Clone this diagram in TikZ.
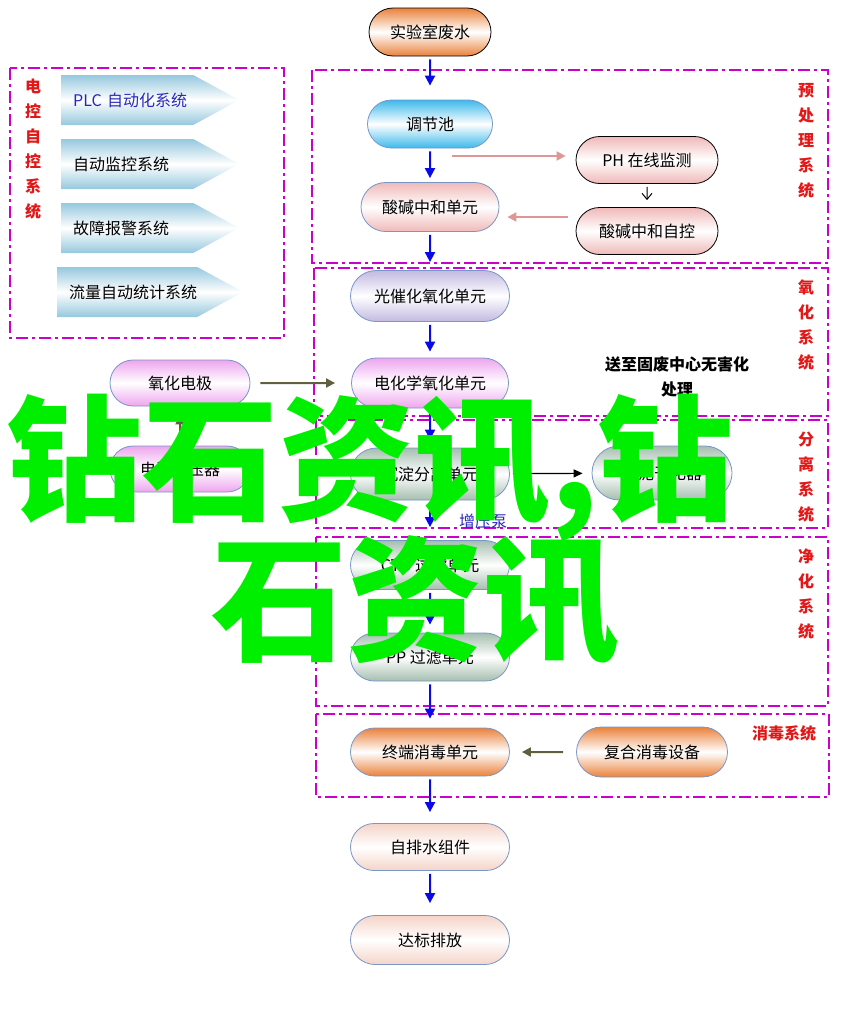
\documentclass[tikz,border=0pt]{standalone}
\usepackage{fontspec}
\setmainfont{Noto Sans CJK SC}
\usetikzlibrary{shapes.misc,shapes.symbols,arrows.meta}
\definecolor{frame}{RGB}{204,0,204}
\definecolor{tagred}{RGB}{226,24,24}
\definecolor{edge}{RGB}{120,150,200}
\definecolor{flowblue}{RGB}{10,10,230}
\definecolor{rosy}{RGB}{222,150,150}
\definecolor{drab}{RGB}{96,96,64}
\definecolor{ember}{RGB}{234,130,60}
\definecolor{sky}{RGB}{60,185,235}
\definecolor{blush}{RGB}{240,185,185}
\definecolor{lilac}{RGB}{195,185,225}
\definecolor{mauve}{RGB}{238,165,238}
\definecolor{sage}{RGB}{165,190,175}
\definecolor{peach}{RGB}{245,212,200}
\definecolor{ice}{RGB}{150,200,222}
\definecolor{neon}{RGB}{0,238,0}
\definecolor{pumpblue}{RGB}{40,40,190}
\begin{document}
\begin{tikzpicture}[x=1pt,y=-1pt,font=\fontsize{16}{19}\selectfont,
    pill/.style={rounded rectangle, draw=edge, line width=0.8pt, inner sep=0pt,
      minimum width=159pt, minimum height=49pt,
      top color=#1, bottom color=#1, middle color=white},
    sys/.style={signal, signal to=east, signal pointer angle=57, anchor=west,
      minimum height=50pt, inner xsep=12pt, text width=#1, align=left,
      top color=ice, bottom color=ice, middle color=white},
    tag/.style={text=tagred, font=\bfseries\fontsize{16}{25}\selectfont, align=center},
    panel/.style={draw=frame, line width=1.8pt, dash pattern=on 12pt off 4pt on 3pt off 4pt},
    flow/.style={draw=flowblue, line width=2pt, -{Triangle[length=10pt,width=10pt]}, shorten <=3pt},
    rosyarrow/.style={draw=rosy, line width=2pt, -{Triangle[length=9pt,width=9pt]}},
    drabarrow/.style={draw=drab, line width=2pt, -{Triangle[length=9pt,width=9pt]}},
    wm/.style={text=neon, inner sep=0pt, font=\bfseries\fontsize{136}{136}\selectfont}]
  \useasboundingbox (0,0) rectangle (841,1017);

  % frames of the sub-systems
  \foreach \x/\y/\X/\Y in {10/68/284/338, 312/70/828/263, 314/268/828/416,
                           316/420/828/528, 316/537/828/706, 316/714/829/797}
    \draw[panel] (\x,\y) rectangle (\X,\Y);
  \node[tag] (ctrltag) at (33,149) {电\\控\\自\\控\\系\\统};
  \node[tag] (pretag) at (806,141) {预\\处\\理\\系\\统};
  \node[tag] (oxitag) at (806,325) {氧\\化\\系\\统};
  \node[tag] (septag) at (806,477) {分\\离\\系\\统};
  \node[tag] (cleantag) at (806,594) {净\\化\\系\\统};
  \node[tag] (distag) at (784,733) {消毒系统};

  % control systems
  \foreach \x/\y/\t/\w/\c [count=\i] in {61/100/PLC~自动化系统/108pt/pumpblue,
      61/164/自动监控系统/108pt/black, 61/228/故障报警系统/108pt/black,
      57/292/流量自动统计系统/116pt/black}
    \node[sys=\w, text=\c] (sys\i) at (\x,\y) {\t};

  % main line
  \node[pill=ember, draw=black, minimum width=122pt, minimum height=48pt] (src) at (430,32) {实验室废水};
  \node[pill=sky, minimum width=125pt, minimum height=48pt] (pool) at (430,124) {调节池};
  \node[pill=blush, minimum width=138pt] (neut) at (430,207) {酸碱中和单元};
  \node[pill=blush, draw=black, minimum width=142pt, minimum height=47pt] (ph) at (647,160) {PH 在线监测};
  \node[pill=blush, draw=black, minimum width=142pt, minimum height=47pt] (auto) at (647,231) {酸碱中和自控};
  \node[pill=lilac, minimum height=51pt] (photo) at (430,296) {光催化氧化单元};
  \node[pill=mauve, minimum width=157pt, minimum height=50pt] (elec) at (430,383) {电化学氧化单元};
  \node[pill=mauve, minimum width=140pt, minimum height=46pt] (anode) at (180,383) {氧化电极};
  \node[pill=mauve, minimum width=140pt, minimum height=46pt] (power) at (180,469) {电源变压器};
  \node[pill=sage, minimum height=52pt] (settle) at (430,474) {沉淀分离单元};
  \node[pill=sage, minimum width=140pt, minimum height=54pt] (sludge) at (662,473) {污泥干化器};
  \node[pill=sage] (cto) at (430,565) {CTO 过滤单元};
  \node[pill=sage, minimum height=48pt] (pp) at (430,657) {PP 过滤单元};
  \node[pill=ember, minimum height=48pt] (term) at (430,752) {终端消毒单元};
  \node[pill=ember, minimum width=151pt, minimum height=50pt] (combo) at (652,752) {复合消毒设备};
  \node[pill=peach, minimum height=47pt] (drain) at (430,847) {自排水组件};
  \node[pill=peach] (out) at (430,940) {达标排放};
  \node[align=center, font=\bfseries\fontsize{16}{25}\selectfont] (waste) at (677,377) {送至固废中心无害化\\处理};
  \node[text=pumpblue] (pump) at (483,521) {增压泵};

  % connectors
  \foreach \a/\b/\s in {src/pool/14, pool/neut/4, neut/photo/8, photo/elec/6, elec/settle/8,
                        settle/cto/13, cto/pp/8, pp/term/9, term/drain/11, drain/out/12}
    \draw[flow, shorten >=\s pt] (\a) -- (\b);
  \coordinate (phfeed) at (452,156);
  \draw[rosyarrow, shorten >=10pt] (phfeed) -- (phfeed -| ph.west);
  \draw[line width=1pt, -{Straight Barb[length=6pt,width=10pt]}, shorten <=3pt, shorten >=7pt] (ph) -- (auto);
  \draw[rosyarrow, shorten <=8pt, shorten >=8pt] ([yshift=14pt]auto.west) -- ([yshift=14pt]auto.west -| neut.east);
  \draw[drabarrow, shorten <=10pt, shorten >=16pt] (anode) -- (elec);
  \draw[drabarrow, shorten <=1pt, shorten >=9pt] (power) -- (anode);
  \draw[line width=1.2pt, -{Triangle[length=9pt,width=8pt]}, shorten <=3pt, shorten >=9pt] (settle) -- (sludge);
  \draw[line width=1pt, -{Straight Barb[length=5pt,width=9pt]}, shorten >=2pt] ([xshift=24pt]sludge.north) -- ([xshift=24pt]sludge.north |- waste.south);
  \draw[drabarrow, shorten <=13pt, shorten >=12pt] (combo) -- (term);

  % overprinted mark
  \node[wm, anchor=base west] (wm1) at (6,510) {钻石资讯,钻};
  \node[wm, anchor=base west] (wm2) at (211,650) {石资讯};
\end{tikzpicture}
\end{document}
